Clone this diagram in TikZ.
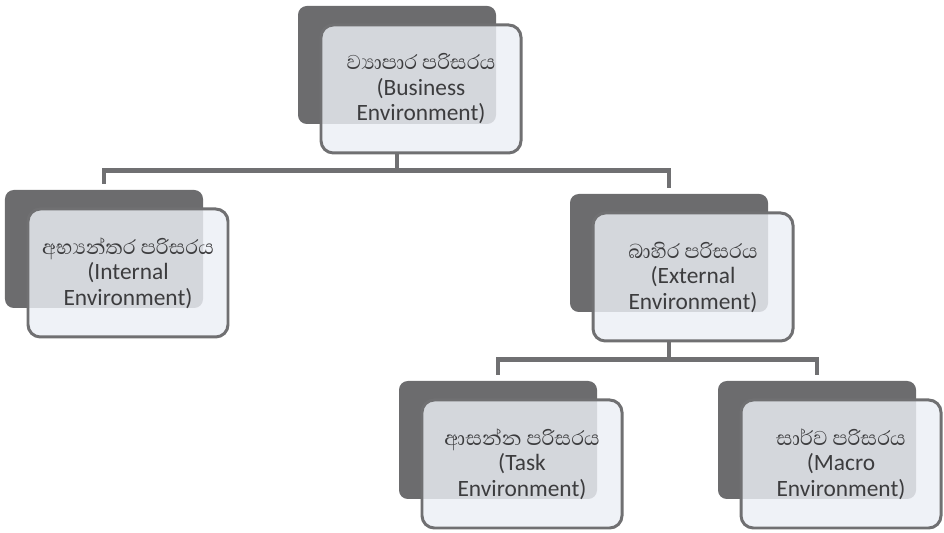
\documentclass[tikz,border=0pt]{standalone}
\usepackage{fontspec}
\setmainfont{Carlito}
\newfontfamily\sinhalafont[Script=Sinhala,Scale=1.1]{Abhaya Libre}
\usepackage{xcolor}
\usetikzlibrary{positioning,calc}

\definecolor{backgray}{RGB}{108,108,110}
\definecolor{frontfill}{RGB}{236,239,245}
\definecolor{edgegray}{RGB}{112,112,114}
\definecolor{inkgray}{RGB}{60,60,62}

\begin{document}
\begin{tikzpicture}[
  front/.style={draw=edgegray, line width=1.7pt, rounded corners=7pt, fill=frontfill, fill opacity=0.82, text opacity=1,
    minimum width=4cm, minimum height=2.56cm, align=center, text=inkgray, font=\fontsize{13.3}{14.5}\selectfont},
  back/.style={fill=backgray, rounded corners=5pt, minimum width=3.96cm, minimum height=2.36cm},
  link/.style={draw=edgegray, line width=2.3pt},
]
\useasboundingbox (0,0) rectangle (18.88,10.66);

% shadow cards
\node[back] (biz-bk) at (7.94,9.36) {};
\node[back] (intl-bk) at (2.08,5.68) {};
\node[back] (extl-bk) at (13.38,5.60) {};
\node[back] (task-bk) at (9.96,1.86) {};
\node[back] (macro-bk) at (16.34,1.86) {};

% main cards
\node[front] (biz) at (8.42,8.88) {{\sinhalafont ව්‍යාපාර පරිසරය}\\(Business\\Environment)};
\node[front] (intl) at (2.56,5.20) {{\sinhalafont අභ්‍යන්තර පරිසරය}\\(Internal\\Environment)};
\node[front] (extl) at (13.86,5.12) {{\sinhalafont බාහිර පරිසරය}\\(External\\Environment)};
\node[front] (task) at (10.44,1.38) {{\sinhalafont ආසන්න පරිසරය}\\(Task\\Environment)};
\node[front] (macro) at (16.82,1.38) {{\sinhalafont සාර්ව පරිසරය}\\(Macro\\Environment)};

% connectors
\coordinate (bus1) at ($(biz.south -| biz-bk.north)+(0,-0.32)$);
\draw[link] (biz.south -| biz-bk.north) -- (bus1);
\draw[link] ([yshift=3.4pt]intl-bk.north) |- (bus1) -| ([yshift=3.4pt]extl-bk.north);

\coordinate (bus2) at ($(extl.south -| extl-bk.north)+(0,-0.34)$);
\draw[link] (extl.south -| extl-bk.north) -- (bus2);
\draw[link] ([yshift=3.4pt]task-bk.north) |- (bus2) -| ([yshift=3.4pt]macro-bk.north);
\end{tikzpicture}
\end{document}
